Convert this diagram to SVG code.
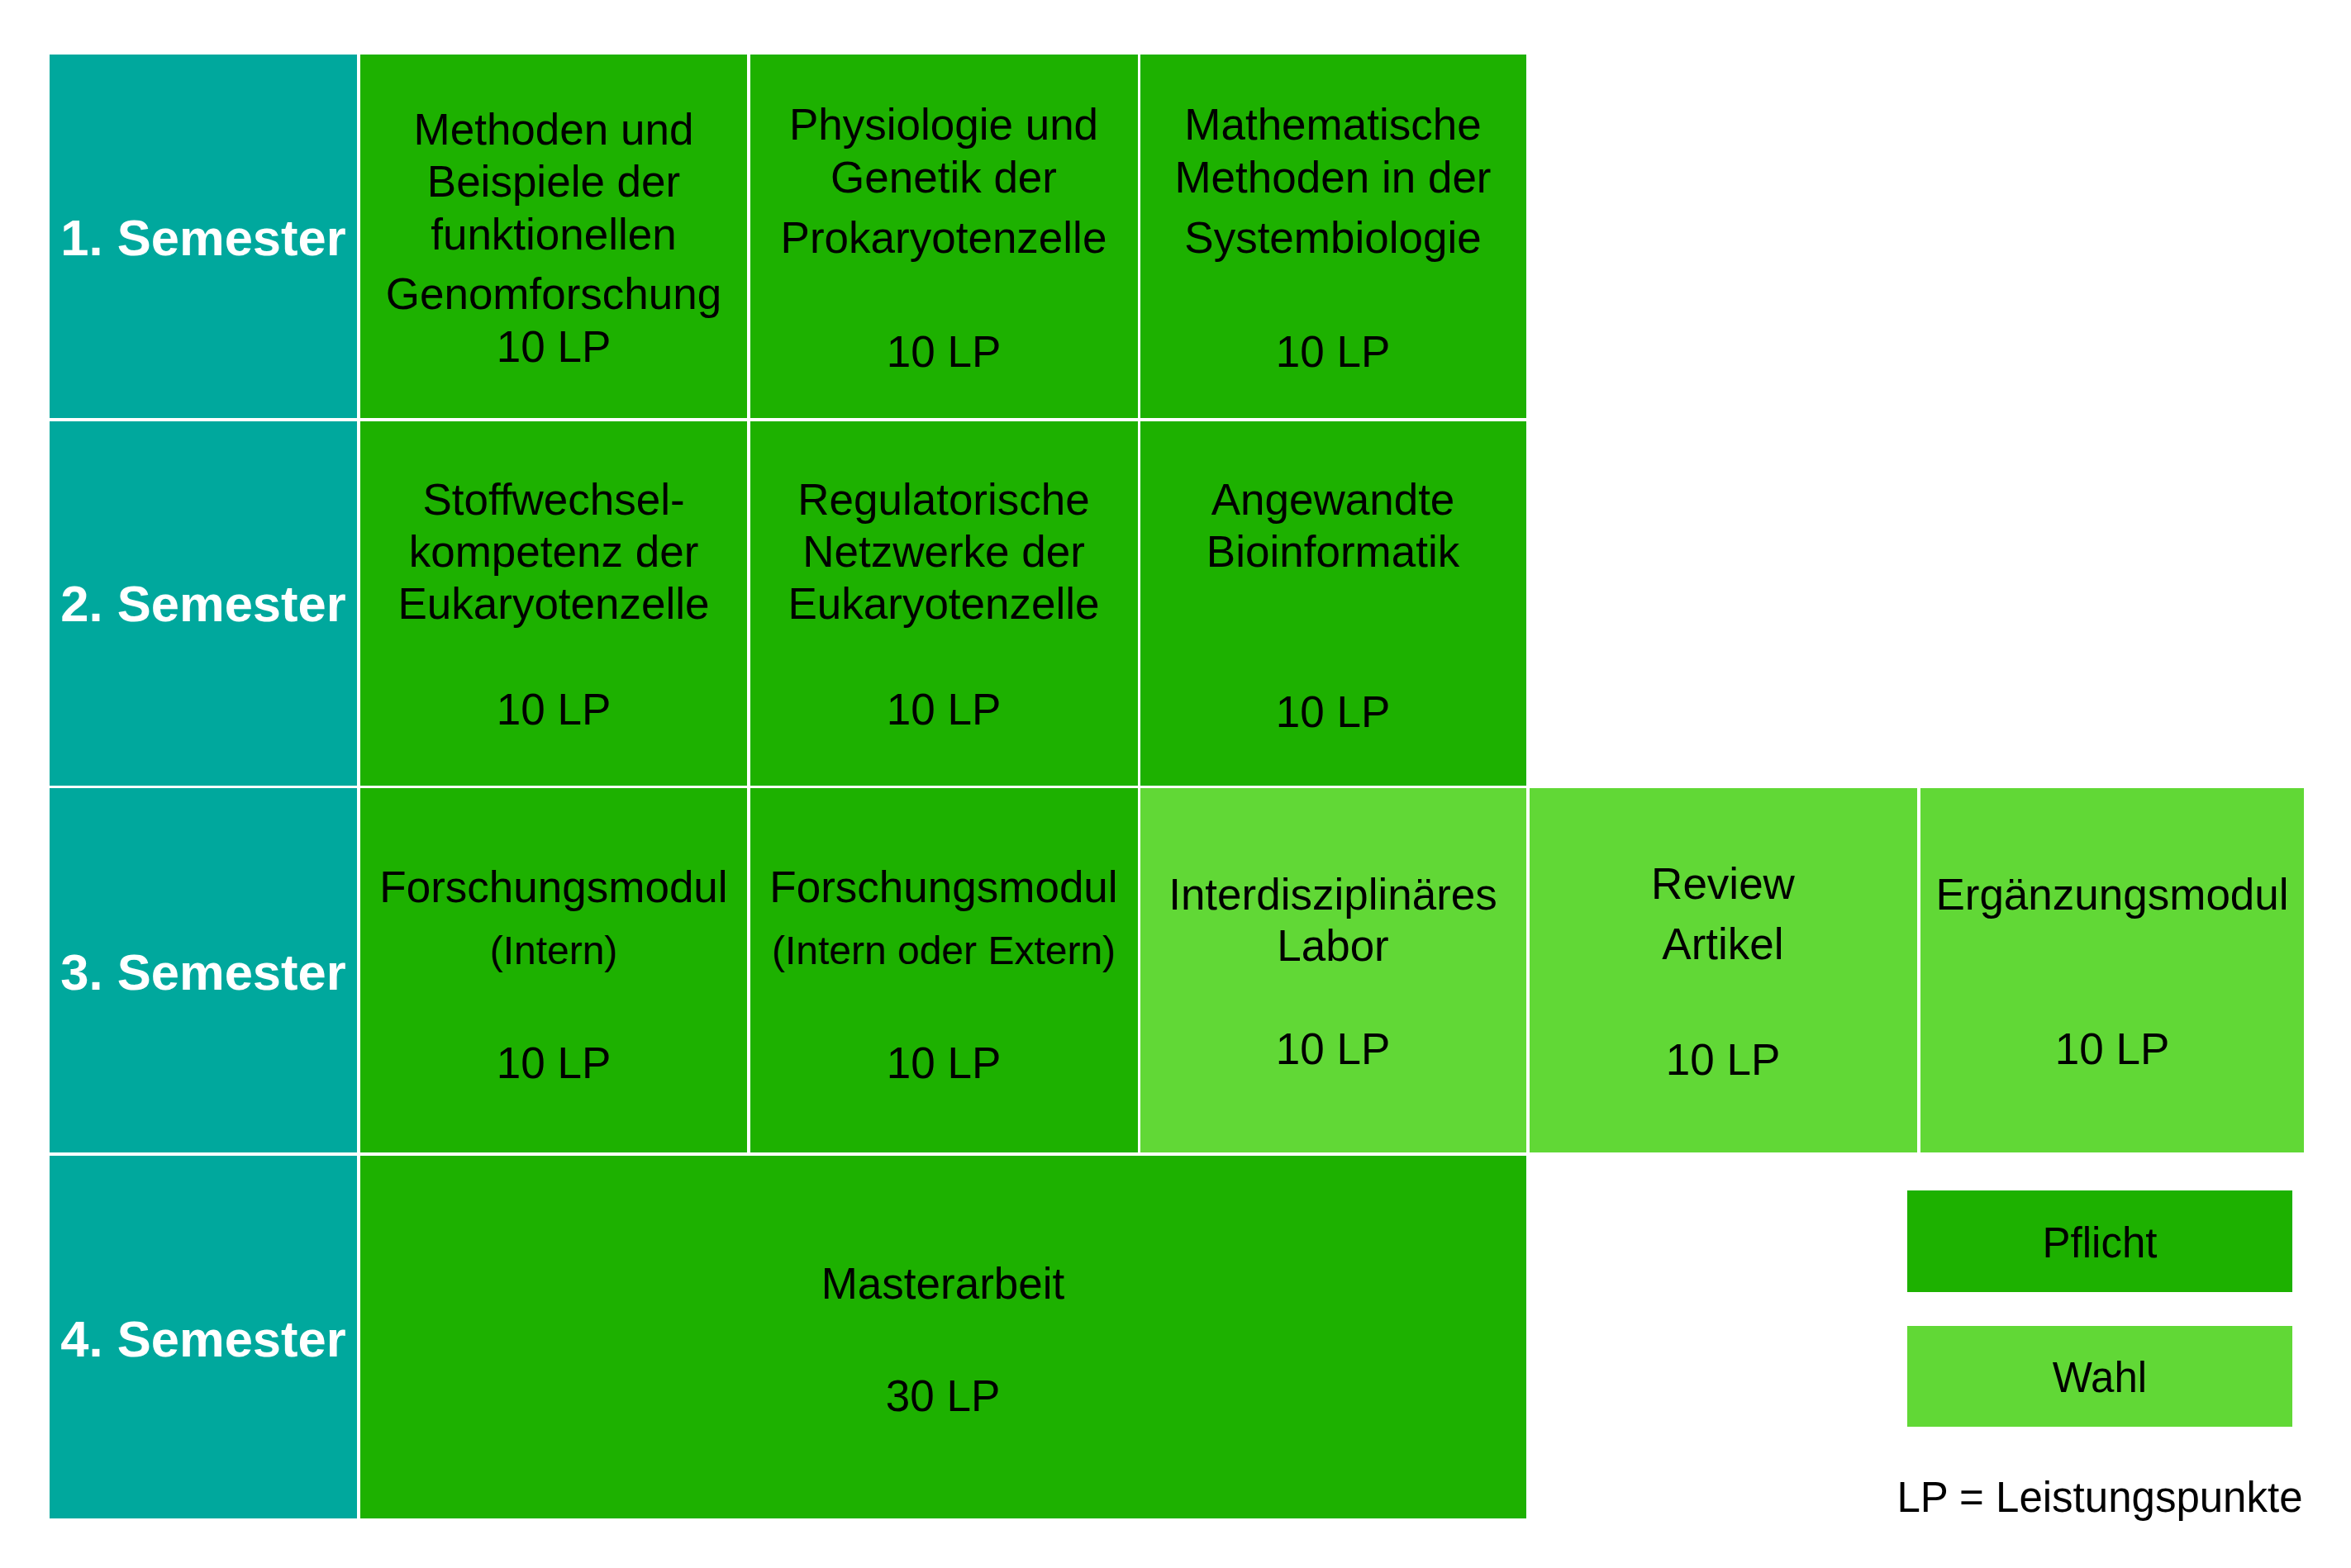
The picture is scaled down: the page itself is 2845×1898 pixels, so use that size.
<svg xmlns="http://www.w3.org/2000/svg" width="2845" height="1898" viewBox="0 0 2845 1898">
<style>
.sem{fill:#00A89D}
.pf{fill:#1DB100}
.wa{fill:#61D836}
text{font-family:"Liberation Sans",Arial,Helvetica,sans-serif;fill:#000;text-anchor:middle}
.t{font-size:53px}
.s{font-size:48px}
.h{font-size:61.5px;font-weight:bold;fill:#fff}
.l{font-size:51px}
</style>
<rect x="0" y="0" width="2845" height="1898" fill="#fff"/>
<g id="sem1"><rect class="sem" x="60" y="66" width="372" height="440"/><text class="h" x="246" y="309">1. Semester</text></g>
<g id="sem2"><rect class="sem" x="60" y="510" width="372" height="441"/><text class="h" x="246" y="752">2. Semester</text></g>
<g id="sem3"><rect class="sem" x="60" y="954" width="372" height="441"/><text class="h" x="246" y="1198">3. Semester</text></g>
<g id="sem4"><rect class="sem" x="60" y="1399" width="372" height="439"/><text class="h" x="246" y="1642">4. Semester</text></g>

<g id="m11"><rect class="pf" x="436" y="66" width="468" height="440"/>
<text class="t" x="670" y="175">Methoden und</text><text class="t" x="670" y="238">Beispiele der</text><text class="t" x="670" y="302">funktionellen</text><text class="t" x="670" y="374">Genomforschung</text><text class="t" x="670" y="438">10 LP</text></g>
<g id="m12"><rect class="pf" x="908" y="66" width="469" height="440"/>
<text class="t" x="1142" y="169">Physiologie und</text><text class="t" x="1142" y="233">Genetik der</text><text class="t" x="1142" y="306">Prokaryotenzelle</text><text class="t" x="1142" y="444">10 LP</text></g>
<g id="m13"><rect class="pf" x="1380" y="66" width="467" height="440"/>
<text class="t" x="1613" y="169">Mathematische</text><text class="t" x="1613" y="233">Methoden in der</text><text class="t" x="1613" y="306">Systembiologie</text><text class="t" x="1613" y="444">10 LP</text></g>

<g id="m21"><rect class="pf" x="436" y="510" width="468" height="441"/>
<text class="t" x="670" y="623">Stoffwechsel-</text><text class="t" x="670" y="686">kompetenz der</text><text class="t" x="670" y="749">Eukaryotenzelle</text><text class="t" x="670" y="877">10 LP</text></g>
<g id="m22"><rect class="pf" x="908" y="510" width="469" height="441"/>
<text class="t" x="1142" y="623">Regulatorische</text><text class="t" x="1142" y="686">Netzwerke der</text><text class="t" x="1142" y="749">Eukaryotenzelle</text><text class="t" x="1142" y="877">10 LP</text></g>
<g id="m23"><rect class="pf" x="1380" y="510" width="467" height="441"/>
<text class="t" x="1613" y="623">Angewandte</text><text class="t" x="1613" y="686">Bioinformatik</text><text class="t" x="1613" y="880">10 LP</text></g>

<g id="m31"><rect class="pf" x="436" y="954" width="468" height="441"/>
<text class="t" x="670" y="1092">Forschungsmodul</text><text class="s" x="670" y="1167">(Intern)</text><text class="t" x="670" y="1305">10 LP</text></g>
<g id="m32"><rect class="pf" x="908" y="954" width="469" height="441"/>
<text class="t" x="1142" y="1092">Forschungsmodul</text><text class="s" x="1142" y="1167">(Intern oder Extern)</text><text class="t" x="1142" y="1305">10 LP</text></g>
<g id="m33"><rect class="wa" x="1380" y="954" width="467" height="441"/>
<text class="t" x="1613" y="1101">Interdisziplinäres</text><text class="t" x="1613" y="1163">Labor</text><text class="t" x="1613" y="1288">10 LP</text></g>
<g id="m34"><rect class="wa" x="1851" y="954" width="469" height="441"/>
<text class="t" x="2085" y="1088">Review</text><text class="t" x="2085" y="1161">Artikel</text><text class="t" x="2085" y="1301">10 LP</text></g>
<g id="m35"><rect class="wa" x="2324" y="954" width="464" height="441"/>
<text class="t" x="2556" y="1101">Ergänzungsmodul</text><text class="t" x="2556" y="1288">10 LP</text></g>

<g id="m4"><rect class="pf" x="436" y="1399" width="1411" height="439"/>
<text class="t" x="1141" y="1572">Masterarbeit</text><text class="t" x="1141" y="1708">30 LP</text></g>

<g id="legend">
<rect class="pf" x="2308" y="1441" width="466" height="123"/><text class="l" x="2541" y="1522">Pflicht</text>
<rect class="wa" x="2308" y="1605" width="466" height="122"/><text class="l" x="2541" y="1685">Wahl</text>
<text class="l" x="2541" y="1830">LP = Leistungspunkte</text>
</g>
<g id="connectors"></g>
</svg>
